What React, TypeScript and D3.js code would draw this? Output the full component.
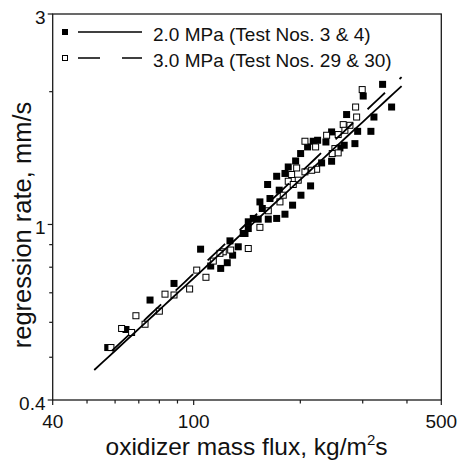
import React from "react";
import * as d3 from "d3";

// 2.0 MPa (Test Nos. 3 & 4) - filled squares
const fluxP2 = [57.2, 64.4, 75.3, 88.0, 104.6, 111.7, 119.2, 124.4, 128.8, 133.6, 126.6, 138.0,
  341.4, 301.0, 362.0, 270.2, 322.7, 290.3, 316.4, 245.1, 223.8, 217.5, 209.7, 236.2, 285.2, 266.0,
  258.7, 200.4, 194.0, 245.1, 229.7, 184.9, 181.0, 171.5, 213.8, 161.7, 174.4, 164.2, 200.8, 153.8,
  156.2, 190.2, 181.0, 171.5, 162.4, 152.1, 147.3, 142.6, 139.6, 142.6];
const rateP2 = [0.526, 0.578, 0.674, 0.735, 0.879, 0.805, 0.795, 0.819, 0.852, 0.890, 0.918, 0.954,
  2.078, 1.955, 1.846, 1.775, 1.752, 1.626, 1.626, 1.621, 1.552, 1.544, 1.499, 1.538, 1.525, 1.512,
  1.491, 1.448, 1.393, 1.391, 1.379, 1.350, 1.305, 1.286, 1.223, 1.232, 1.196, 1.145, 1.165, 1.125,
  1.087, 1.106, 1.055, 1.032, 1.028, 1.028, 1.032, 1.014, 0.954, 0.979];

// 3.0 MPa (Test Nos. 29 & 30) - open squares
const fluxP3 = [58.4, 62.6, 66.8, 68.7, 72.9, 80.0, 83.0, 88.0, 97.4, 102.0, 108.3, 113.6, 121.2, 127.2,
  299.0, 286.5, 288.4, 264.3, 276.1, 267.2, 237.3, 206.1, 220.9, 255.8, 250.4, 246.1, 255.8, 222.4,
  215.3, 206.1, 195.3, 189.0, 197.3, 184.9, 191.0, 179.0, 175.2, 162.4, 153.8, 142.6, 118.6];
const rateP3 = [0.526, 0.581, 0.569, 0.621, 0.594, 0.636, 0.695, 0.692, 0.714, 0.788, 0.759, 0.826, 0.867, 0.875,
  2.022, 1.846, 1.752, 1.684, 1.678, 1.635, 1.593, 1.544, 1.499, 1.599, 1.486, 1.448, 1.453, 1.334,
  1.327, 1.316, 1.343, 1.298, 1.260, 1.253, 1.232, 1.165, 1.125, 1.074, 0.985, 0.882, 0.860];

// power-law fits r = a * G^n
const fitA = [0.02479, 0.02348];
const fitN = [0.742, 0.759];
const fitStart = [52.4, 58.7];
const fitEnd = [386.3, 386.3];

const legendLabels = ["2.0 MPa (Test Nos. 3 & 4)", "3.0 MPa (Test Nos. 29 & 30)"];
const xMajor = [40, 100, 500];
const xMinor = [50, 60, 70, 80, 90, 200, 300, 400];
const yMajor = [0.4, 1, 3];
const yMinor = [0.5, 0.6, 0.7, 0.8, 0.9, 2];

const W = 459, H = 462;
const FONT = "'Liberation Sans', Arial, sans-serif";

export default function App() {
  const x = d3.scaleLog().domain([40, 500]).range([52.7, 441.3]);
  const y = d3.scaleLog().domain([0.4, 3]).range([400, 14]);
  const [x0, x1] = x.range();
  const [y0, y1] = y.range();
  const ink = "#1a1a1a";

  const fitLine = (i: number) => {
    const xs = d3.range(0, 41).map((k) => fitStart[i] * Math.pow(fitEnd[i] / fitStart[i], k / 40));
    return d3.line<number>().x((g) => x(g)).y((g) => y(fitA[i] * Math.pow(g, fitN[i])))(xs) || "";
  };

  const sq = 7;
  return (
    <svg width={W} height={H} style={{ position: "absolute", left: 0, top: 0, background: "#fff" }} fontFamily={FONT}>
      <rect width={W} height={H} fill="#fff" />
      {/* frame */}
      <rect x={x0} y={y1} width={x1 - x0} height={y0 - y1} fill="none" stroke={ink} strokeWidth={1.3} />
      {/* x ticks */}
      {xMajor.map((t) => (
        <g key={"xm" + t}>
          <line x1={x(t)} x2={x(t)} y1={y0} y2={y0 + 5} stroke={ink} strokeWidth={1.2} />
          <text x={x(t)} y={428} fontSize={19} textAnchor="middle" fill="#111">{t}</text>
        </g>
      ))}
      {xMinor.map((t) => (
        <line key={"xn" + t} x1={x(t)} x2={x(t)} y1={y0} y2={y0 + 3.5} stroke={ink} strokeWidth={1.2} />
      ))}
      {/* y ticks */}
      {yMajor.map((t) => (
        <g key={"ym" + t}>
          <line x1={x0 - 5} x2={x0} y1={y(t)} y2={y(t)} stroke={ink} strokeWidth={1.2} />
          <text x={45.5} y={y(t) + 9.5} fontSize={19} textAnchor="end" fill="#111">{t}</text>
        </g>
      ))}
      {yMinor.map((t) => (
        <line key={"yn" + t} x1={x0 - 3.5} x2={x0} y1={y(t)} y2={y(t)} stroke={ink} strokeWidth={1.2} />
      ))}
      {/* axis titles */}
      <text x={246.5} y={455} fontSize={24.5} textAnchor="middle" fill="#111">
        oxidizer mass flux, kg/m<tspan dy={-10} fontSize={15}>2</tspan><tspan dy={10}>s</tspan>
      </text>
      <text transform={`translate(31,225) rotate(-90)`} fontSize={25.5} textAnchor="middle" fill="#111">
        regression rate, mm/s
      </text>
      {/* data */}
      {fluxP2.map((g, i) => (
        <rect key={"f" + i} x={x(g) - sq / 2} y={y(rateP2[i]) - sq / 2} width={sq} height={sq} fill="#000" />
      ))}
      {fluxP3.map((g, i) => (
        <rect key={"o" + i} x={x(g) - sq / 2 + 0.5} y={y(rateP3[i]) - sq / 2 + 0.5} width={sq - 1} height={sq - 1}
          fill="#fff" stroke="#000" strokeWidth={1} />
      ))}
      {/* fits */}
      <path d={fitLine(0)} fill="none" stroke="#000" strokeWidth={1.8} />
      <path d={fitLine(1)} fill="none" stroke="#000" strokeWidth={1.8} strokeDasharray="24 20" />
      {/* legend */}
      <rect x={62} y={29} width={6} height={6} fill="#000" />
      <line x1={78} x2={142} y1={32} y2={32} stroke="#000" strokeWidth={1.5} />
      <text x={153} y={41} fontSize={19} fill="#111">{legendLabels[0]}</text>
      <rect x={62.5} y={55.5} width={5} height={5} fill="#fff" stroke="#000" strokeWidth={1} />
      <line x1={78} x2={142} y1={58} y2={58} stroke="#000" strokeWidth={1.5} strokeDasharray="22 22" />
      <text x={153} y={67} fontSize={19} fill="#111">{legendLabels[1]}</text>
    </svg>
  );
}
